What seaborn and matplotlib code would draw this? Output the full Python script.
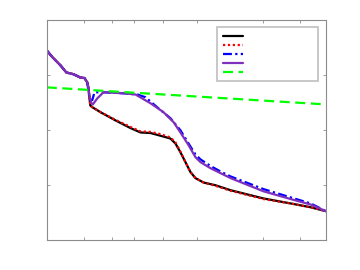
import numpy as np
import seaborn as sns
import matplotlib.pyplot as plt
from matplotlib.lines import Line2D

# curve data (x in 0..100, y in 0..4)
x_black = [0, 2.0, 4.9, 7.0, 9.5, 12.0, 13.5, 14.5, 14.9, 15.3, 15.6, 16.3, 19.2, 24.6, 30.0, 33.6, 37.2, 40.8, 44.3, 46.1, 47.9, 49.7, 51.5, 53.3, 56.2, 60.5, 65.9, 77.7, 87.4, 94.6, 100]
y_black = [3.45, 3.33, 3.18, 3.05, 3.02, 2.96, 2.95, 2.87, 2.78, 2.58, 2.45, 2.42, 2.33, 2.18, 2.04, 1.96, 1.95, 1.90, 1.85, 1.76, 1.60, 1.42, 1.24, 1.13, 1.05, 1.00, 0.91, 0.76, 0.67, 0.60, 0.53]

x_red = [0, 2.0, 4.9, 7.0, 9.5, 12.0, 13.5, 14.5, 14.9, 15.3, 15.6, 16.3, 19.2, 24.6, 30.0, 33.6, 37.2, 40.8, 44.3, 46.1, 47.9, 49.7, 51.5, 53.3, 56.2, 60.5, 65.9, 77.7, 87.4, 94.6, 100]
y_red = [3.45, 3.33, 3.18, 3.05, 3.02, 2.96, 2.95, 2.87, 2.78, 2.58, 2.45, 2.42, 2.33, 2.19, 2.06, 1.98, 1.97, 1.93, 1.87, 1.78, 1.61, 1.42, 1.24, 1.13, 1.05, 0.99, 0.90, 0.75, 0.67, 0.60, 0.53]

x_blue = [0, 2.0, 4.9, 7.0, 9.5, 12.0, 13.5, 14.5, 15.3, 15.6, 16.3, 17.1, 20.3, 28.2, 32.5, 35.4, 40.0, 44.3, 47.9, 50.8, 53.3, 55.1, 58.7, 62.3, 65.9, 77.7, 87.4, 94.6, 100]
y_blue = [3.45, 3.33, 3.18, 3.05, 3.02, 2.96, 2.95, 2.87, 2.58, 2.55, 2.55, 2.69, 2.69, 2.67, 2.65, 2.60, 2.40, 2.22, 2.00, 1.76, 1.56, 1.47, 1.35, 1.25, 1.16, 0.93, 0.78, 0.67, 0.53]

x_purple = [0, 2.0, 4.9, 7.0, 9.5, 12.0, 13.5, 14.5, 14.9, 15.3, 16.0, 16.5, 18.1, 20.3, 24.6, 28.2, 31.8, 37.2, 41.8, 45.4, 47.9, 50.8, 53.3, 55.1, 58.7, 62.3, 65.9, 77.7, 87.4, 94.6, 100]
y_purple = [3.45, 3.33, 3.18, 3.05, 3.02, 2.96, 2.95, 2.87, 2.78, 2.62, 2.49, 2.47, 2.58, 2.69, 2.68, 2.67, 2.65, 2.49, 2.33, 2.15, 1.96, 1.73, 1.51, 1.42, 1.31, 1.22, 1.13, 0.89, 0.75, 0.65, 0.53]

x_green = [0, 100]
y_green = [2.78, 2.47]

x_ticks = [13.5, 23.2, 31.1, 41.8, 53.7, 77.4, 90.7]
y_ticks = [0, 1, 2, 3, 4]

sns.set_style("white")
fig = plt.figure(figsize=(3.6, 2.7), dpi=100)
ax = fig.add_axes([0.13, 0.11, 0.775, 0.815])

red_ls = (0, (1, 1.2))
blue_ls = (0, (4, 1.5, 1, 1.5))
green_ls = (0, (4.5, 2.5))

sns.lineplot(x=x_black, y=y_black, color="black", linewidth=1.6, ax=ax, sort=False)
sns.lineplot(x=x_red, y=y_red, color="#ff0000", linewidth=1.6, linestyle=red_ls, ax=ax, sort=False)
sns.lineplot(x=x_blue, y=y_blue, color="#0000ff", linewidth=1.6, linestyle=blue_ls, ax=ax, sort=False)
sns.lineplot(x=x_purple, y=y_purple, color="#7e2fbe", linewidth=1.6, ax=ax, sort=False)
sns.lineplot(x=x_green, y=y_green, color="#00ff00", linewidth=1.6, linestyle=green_ls, ax=ax, sort=False)

ax.set_xlim(0, 100)
ax.set_ylim(0, 4)
ax.set_xticks(x_ticks)
ax.set_yticks(y_ticks)
ax.set_xticklabels([])
ax.set_yticklabels([])
ax.tick_params(direction="in", length=2.5, width=0.6, color="#8c8c8c",
               top=True, right=True, bottom=True, left=True)
for s in ax.spines.values():
    s.set_color("#8c8c8c")
    s.set_linewidth(0.8)
ax.set_xlabel("")
ax.set_ylabel("")

handles = [
    Line2D([], [], color="black", linewidth=1.6),
    Line2D([], [], color="#ff0000", linewidth=1.6, linestyle=red_ls),
    Line2D([], [], color="#0000ff", linewidth=1.6, linestyle=blue_ls),
    Line2D([], [], color="#7e2fbe", linewidth=1.6),
    Line2D([], [], color="#00ff00", linewidth=1.6, linestyle=green_ls),
]
leg = ax.legend(handles, [" "] * 5, loc="upper left", bbox_to_anchor=(0.609, 0.97, 0.363, 0.0),
                mode="expand", fontsize=5, handlelength=2.9, handletextpad=0.5,
                labelspacing=0.43, borderaxespad=0, borderpad=0.9,
                fancybox=False, framealpha=1)
leg.get_frame().set_edgecolor("#bfbfbf")
leg.get_frame().set_linewidth(1.2)

fig.savefig("out.png", dpi=100)
